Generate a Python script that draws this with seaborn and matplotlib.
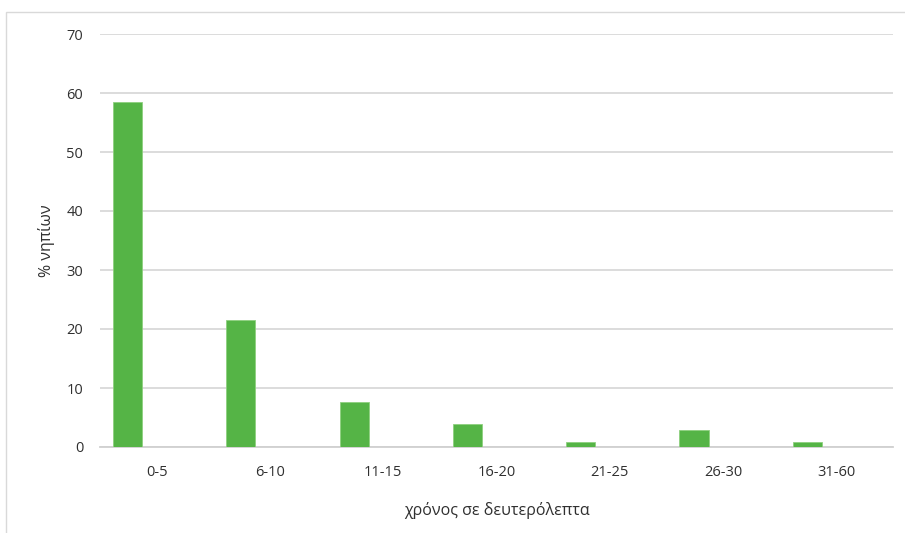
import matplotlib
matplotlib.use("Agg")
import matplotlib.pyplot as plt
import seaborn as sns
import pandas as pd
from matplotlib.patches import Rectangle

categories = ["0-5", "6-10", "11-15", "16-20", "21-25", "26-30", "31-60"]
percent_infants = [58.5, 21.6, 7.7, 3.85, 0.9, 2.8, 0.9]
y_ticks = [0, 10, 20, 30, 40, 50, 60, 70]

series_order = ["Σειρά1", "Σειρά2", "Σειρά3"]

df = pd.DataFrame({
    "category": categories,
    "value": percent_infants,
    "series": series_order[0],
})

sns.set_theme(style="white")
plt.rcParams["font.family"] = ["Open Sans", "DejaVu Sans"]

fig = plt.figure(figsize=(9.05, 5.33), dpi=100)
ax = fig.add_axes([100 / 905, 1 - 447 / 533, 793 / 905, 413 / 533])

sns.barplot(
    data=df, x="category", y="value", hue="series", hue_order=series_order,
    order=categories, palette=["#55B446", "#55B446", "#55B446"],
    saturation=1, width=0.77, dodge=True, legend=False, ax=ax,
    edgecolor="#8ED07F", linewidth=0.6, zorder=3,
)

ax.set_ylim(0, 70)
ax.set_xlim(-0.5, len(categories) - 0.5)
ax.set_yticks(y_ticks)
ax.yaxis.grid(True, color="#D9D9D9", linewidth=1.3)
ax.set_axisbelow(True)
for side in ["top", "right", "left"]:
    ax.spines[side].set_visible(False)
ax.spines["bottom"].set_color("#D0D0D0")
ax.spines["bottom"].set_linewidth(1.3)
ax.tick_params(axis="both", length=0, labelsize=10.5, colors="#303030")
ax.tick_params(axis="x", pad=13)
ax.tick_params(axis="y", pad=12)

ax.set_xlabel("χρόνος σε δευτερόλεπτα", fontsize=11.5, color="#303030", labelpad=16)
ax.set_ylabel("% νηπίων", fontsize=11.5, color="#303030", labelpad=8)

fig.patches.append(Rectangle((6 / 905, -0.05), 1.2, 1 - 12 / 533 + 0.05,
                             transform=fig.transFigure, fill=False,
                             edgecolor="#D9D9D9", linewidth=1.0))

fig.savefig("out.png", dpi=100, facecolor="white")
